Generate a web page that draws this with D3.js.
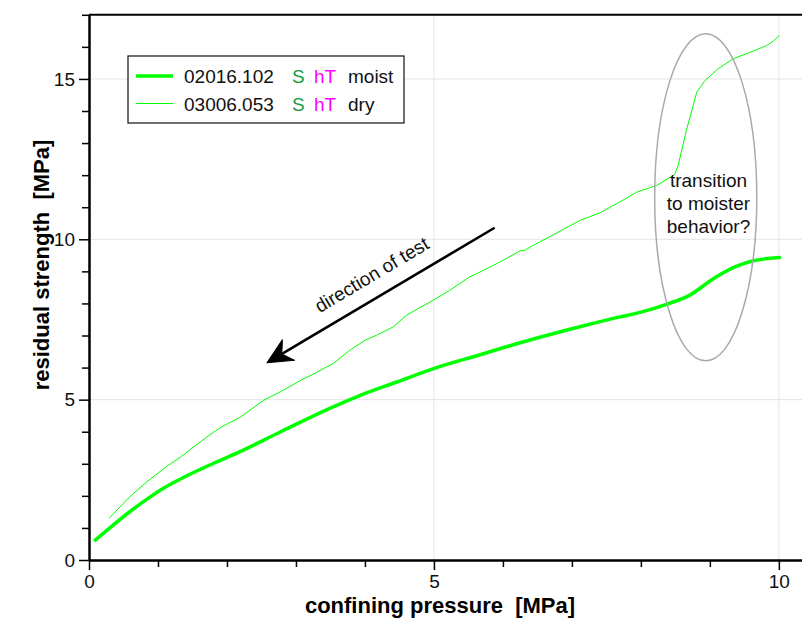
<!DOCTYPE html>
<html>
<head>
<meta charset="utf-8">
<script src="https://cdn.jsdelivr.net/npm/d3@7/dist/d3.min.js"></script>
<style>
  html, body { margin: 0; padding: 0; background: #fff; }
  svg text { font-family: "Liberation Sans", Arial, sans-serif; }
</style>
</head>
<body>
<svg id="chart" width="802" height="625"></svg>
<script>
// Residual strength vs. confining pressure, two samples
const moistX = [0.09, 0.35, 0.60, 0.84, 1.08, 1.32, 1.80, 2.19, 2.77, 3.49, 3.88, 4.46, 5.04, 5.67, 6.10, 6.63, 7.20, 7.70, 7.99, 8.37, 8.71, 9.05, 9.39, 9.63, 10.01];
const moistY = [0.62, 1.09, 1.52, 1.90, 2.24, 2.52, 3.01, 3.38, 3.99, 4.73, 5.09, 5.55, 6.00, 6.40, 6.68, 7.00, 7.32, 7.58, 7.72, 7.97, 8.26, 8.77, 9.16, 9.33, 9.43];

const dryX = [0.29, 0.59, 0.84, 1.12, 1.32, 1.46, 1.71, 1.90, 2.19, 2.53, 2.77, 3.06, 3.30, 3.54, 3.78, 4.00, 4.17, 4.41, 4.60, 4.99, 5.23, 5.52, 5.67, 5.91, 6.25, 6.32, 6.44, 6.78, 7.12, 7.41, 7.65, 7.94, 8.23, 8.49, 8.54, 8.66, 8.81, 8.93, 9.12, 9.34, 9.63, 9.82, 9.92, 10.01];
const dryY = [1.30, 1.97, 2.44, 2.91, 3.20, 3.43, 3.84, 4.13, 4.45, 4.98, 5.24, 5.59, 5.85, 6.13, 6.54, 6.85, 7.01, 7.27, 7.63, 8.10, 8.41, 8.83, 8.98, 9.24, 9.64, 9.66, 9.81, 10.20, 10.59, 10.83, 11.11, 11.47, 11.68, 12.02, 12.30, 13.40, 14.59, 14.95, 15.32, 15.63, 15.87, 16.04, 16.18, 16.36];

const xMajorTicks = [0, 5, 10];
const xMinorTicks = [1, 2, 3, 4, 6, 7, 8, 9];
const yMajorTicks = [0, 5, 10, 15];
const yMinorTicks = [1, 2, 3, 4, 6, 7, 8, 9, 11, 12, 13, 14, 16, 17];

const seriesNames = ["02016.102", "03006.053"];
const seriesCond = ["moist", "dry"];
const noteLines = ["transition", "to moister", "behavior?"];

const svg = d3.select("#chart");
const x = d3.scaleLinear().domain([0, 10.35]).range([89, 803]);
const y = d3.scaleLinear().domain([0, 17]).range([560, 14.8]);

const LIME = "#00ff00";
const GRID = "#e4e4e4";

// grid
const grid = svg.append("g");
grid.selectAll("line.gy").data([5, 10, 15]).join("line")
  .attr("x1", x(0)).attr("x2", x(10.35))
  .attr("y1", d => y(d)).attr("y2", d => y(d))
  .attr("stroke", GRID).attr("stroke-width", 1);
grid.selectAll("line.gx").data([5, 10]).join("line")
  .attr("x1", d => x(d)).attr("x2", d => x(d))
  .attr("y1", y(0)).attr("y2", y(17))
  .attr("stroke", GRID).attr("stroke-width", 1);

// top frame line
svg.append("line")
  .attr("x1", x(0)).attr("x2", x(10.35))
  .attr("y1", y(17)).attr("y2", y(17))
  .attr("stroke", "#000").attr("stroke-width", 2);

// axes
function styleAxis(g) {
  g.selectAll(".domain").attr("stroke", "#000").attr("stroke-width", 2);
  g.selectAll(".tick line").attr("stroke", "#000").attr("stroke-width", 1.5);
  g.selectAll(".tick text").attr("font-size", 19).attr("fill", "#111")
    .style("font-family", '"Liberation Sans", Arial, sans-serif');
}
svg.append("g").attr("transform", `translate(0,${y(0)})`)
  .call(d3.axisBottom(x).tickValues(xMinorTicks).tickSize(7).tickFormat("").tickSizeOuter(0))
  .call(styleAxis);
svg.append("g").attr("transform", `translate(0,${y(0)})`)
  .call(d3.axisBottom(x).tickValues(xMajorTicks).tickSize(10).tickPadding(5).tickFormat(d3.format("d")).tickSizeOuter(0))
  .call(styleAxis);
svg.append("g").attr("transform", `translate(${x(0)},0)`)
  .call(d3.axisLeft(y).tickValues(yMinorTicks).tickSize(7).tickFormat("").tickSizeOuter(0))
  .call(styleAxis);
svg.append("g").attr("transform", `translate(${x(0)},0)`)
  .call(d3.axisLeft(y).tickValues(yMajorTicks).tickSize(10).tickPadding(4).tickFormat(d3.format("d")).tickSizeOuter(0))
  .call(styleAxis);

// axis titles
svg.append("text")
  .attr("x", 440).attr("y", 613)
  .attr("text-anchor", "middle").attr("font-size", 22).attr("font-weight", "bold")
  .style("white-space", "pre")
  .text("confining pressure  [MPa]");
svg.append("text")
  .attr("transform", "translate(49,265) rotate(-90)")
  .attr("text-anchor", "middle").attr("font-size", 22).attr("font-weight", "bold")
  .style("white-space", "pre")
  .text("residual strength  [MPa]");

// data lines
const moist = moistX.map((v, i) => [v, moistY[i]]);
const dry = dryX.map((v, i) => [v, dryY[i]]);
svg.append("path").datum(dry)
  .attr("d", d3.line().x(d => x(d[0])).y(d => y(d[1])).curve(d3.curveLinear))
  .attr("fill", "none").attr("stroke", LIME).attr("stroke-width", 1);
svg.append("path").datum(moist)
  .attr("d", d3.line().x(d => x(d[0])).y(d => y(d[1])).curve(d3.curveMonotoneX))
  .attr("fill", "none").attr("stroke", LIME).attr("stroke-width", 3.5)
  .attr("stroke-linecap", "round");

// ellipse annotation
const ecx = 8.94, ecy = 11.31, erx = 0.74, ery = 5.1;
svg.append("ellipse")
  .attr("cx", x(ecx)).attr("cy", y(ecy))
  .attr("rx", x(ecx + erx) - x(ecx)).attr("ry", y(ecy) - y(ecy + ery))
  .attr("fill", "none").attr("stroke", "#aaaaaa").attr("stroke-width", 1.5);
svg.append("g").selectAll("text").data(noteLines).join("text")
  .attr("x", x(8.98)).attr("y", (d, i) => y(11.62) + i * 23)
  .attr("text-anchor", "middle").attr("font-size", 19).attr("fill", "#111")
  .text(d => d);

// direction arrow
const a0 = [x(5.88), y(10.36)], a1 = [x(2.58), y(6.15)];
const dx = a1[0] - a0[0], dy = a1[1] - a0[1];
const len = Math.hypot(dx, dy);
const ang = Math.atan2(dy, dx) * 180 / Math.PI;
const arrow = svg.append("g")
  .attr("transform", `translate(${a0[0]},${a0[1]}) rotate(${ang})`);
arrow.append("line")
  .attr("x1", 0).attr("y1", 0).attr("x2", len - 12).attr("y2", 0)
  .attr("stroke", "#000").attr("stroke-width", 2.6);
arrow.append("path")
  .attr("d", `M${len},0 L${len - 25},-12 Q${len - 20},-4 ${len - 17},0 Q${len - 20},4 ${len - 25},12 Z`)
  .attr("fill", "#000").attr("stroke", "#000").attr("stroke-width", 1).attr("stroke-linejoin", "round");
// label rides above the shaft, reading upward to the right
const tFrac = 0.49;
const tx = a0[0] + dx * tFrac, ty = a0[1] + dy * tFrac;
const nx = dy / len, ny = -dx / len; // perpendicular (points up-left)
svg.append("text")
  .attr("transform", `translate(${tx - nx * 9},${ty - ny * 9}) rotate(${ang + 180})`)
  .attr("text-anchor", "middle").attr("font-size", 19).attr("fill", "#111")
  .attr("dy", "-0.35em")
  .text("direction of test");

// legend
const leg = svg.append("g");
leg.append("rect")
  .attr("x", 128).attr("y", 56).attr("width", 276).attr("height", 67)
  .attr("fill", "#fff").attr("stroke", "#222").attr("stroke-width", 1.3);
const rows = leg.selectAll("g.row").data(seriesNames).join("g")
  .attr("transform", (d, i) => `translate(0,${76 + i * 27.5})`);
rows.append("line")
  .attr("x1", 136).attr("x2", 173).attr("y1", 0).attr("y2", 0)
  .attr("stroke", LIME).attr("stroke-width", (d, i) => i === 0 ? 3.5 : 1);
const rowText = rows.append("text").attr("y", 7).attr("font-size", 19);
rowText.append("tspan").attr("x", 184).attr("fill", "#111").text(d => d);
rowText.append("tspan").attr("x", 292).attr("fill", "#1a9a3c").text("S");
rowText.append("tspan").attr("x", 314).attr("fill", "#ff00ff").text("hT");
rowText.append("tspan").attr("x", 348).attr("fill", "#111").text((d, i) => seriesCond[i]);
</script>
</body>
</html>
